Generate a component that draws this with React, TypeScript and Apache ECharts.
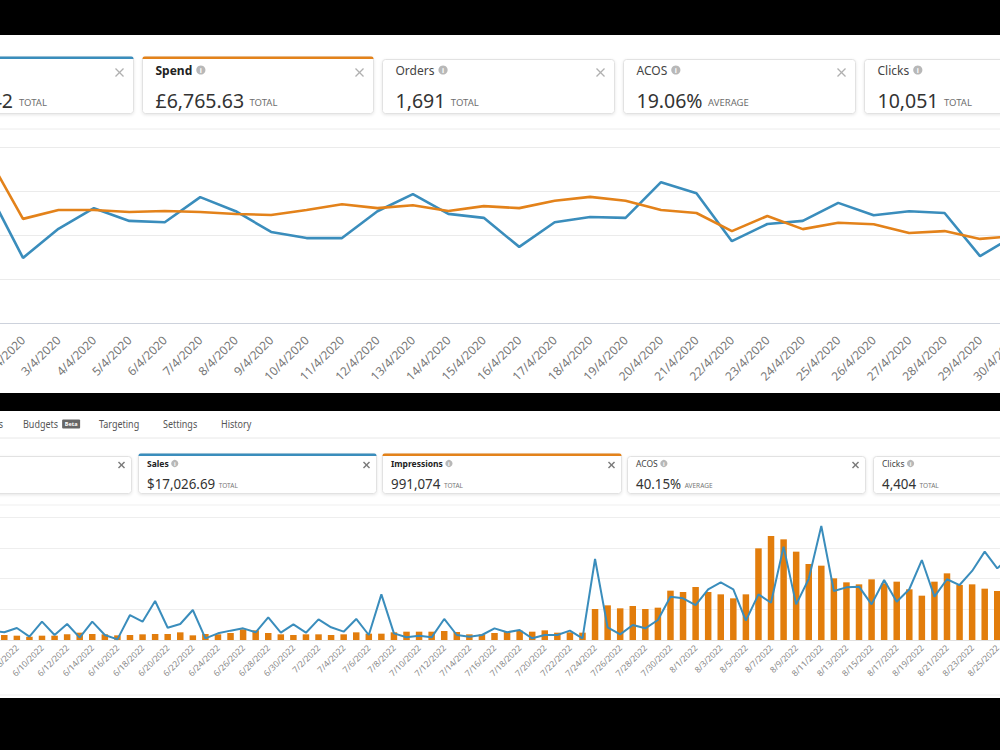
import React, { useEffect, useRef } from "react";
import * as echarts from "echarts";

const FONT = '"Noto Sans", "Open Sans", Arial, sans-serif';
const BLUE = "#3a8dbc";
const ORANGE = "#e3821a";
const BAR_ORANGE = "#e27d0c";

// ---- April 2020 (GBP), one point per day ----
const aprilDates = [
  "1/4/2020", "2/4/2020", "3/4/2020", "4/4/2020", "5/4/2020", "6/4/2020",
  "7/4/2020", "8/4/2020", "9/4/2020", "10/4/2020", "11/4/2020", "12/4/2020",
  "13/4/2020", "14/4/2020", "15/4/2020", "16/4/2020", "17/4/2020", "18/4/2020",
  "19/4/2020", "20/4/2020", "21/4/2020", "22/4/2020", "23/4/2020", "24/4/2020",
  "25/4/2020", "26/4/2020", "27/4/2020", "28/4/2020", "29/4/2020", "30/4/2020",
];
const aprilSales = [
  1520, 740, 1070, 1305, 1160, 1145, 1430, 1270, 1035, 965,
  965, 1270, 1465, 1240, 1195, 865, 1145, 1205, 1195, 1600,
  1475, 930, 1125, 1160, 1365, 1225, 1270, 1250, 760, 1000,
];
const aprilSpend = [
  342, 213, 231, 231, 227, 229, 227, 223, 221, 231,
  243, 235, 241, 229, 239, 235, 250, 258, 250, 231,
  225, 188, 219, 192, 205, 202, 184, 188, 172, 178,
];

// ---- 6 June – 26 August 2022 (USD), one bar per day ----
const summerDates = [
  "6/6/2022", "6/7/2022", "6/8/2022", "6/9/2022", "6/10/2022", "6/11/2022", "6/12/2022",
  "6/13/2022", "6/14/2022", "6/15/2022", "6/16/2022", "6/17/2022", "6/18/2022", "6/19/2022",
  "6/20/2022", "6/21/2022", "6/22/2022", "6/23/2022", "6/24/2022", "6/25/2022", "6/26/2022",
  "6/27/2022", "6/28/2022", "6/29/2022", "6/30/2022",
  "7/1/2022", "7/2/2022", "7/3/2022", "7/4/2022", "7/5/2022", "7/6/2022", "7/7/2022",
  "7/8/2022", "7/9/2022", "7/10/2022", "7/11/2022", "7/12/2022", "7/13/2022", "7/14/2022",
  "7/15/2022", "7/16/2022", "7/17/2022", "7/18/2022", "7/19/2022", "7/20/2022", "7/21/2022",
  "7/22/2022", "7/23/2022", "7/24/2022", "7/25/2022", "7/26/2022", "7/27/2022", "7/28/2022",
  "7/29/2022", "7/30/2022", "7/31/2022",
  "8/1/2022", "8/2/2022", "8/3/2022", "8/4/2022", "8/5/2022", "8/6/2022", "8/7/2022",
  "8/8/2022", "8/9/2022", "8/10/2022", "8/11/2022", "8/12/2022", "8/13/2022", "8/14/2022",
  "8/15/2022", "8/16/2022", "8/17/2022", "8/18/2022", "8/19/2022", "8/20/2022", "8/21/2022",
  "8/22/2022", "8/23/2022", "8/24/2022", "8/25/2022", "8/26/2022",
];
const summerImpressions = [
  // June 6–30
  2300, 2280, 1970, 1520, 1970, 1970, 2580, 3340, 2730, 2580, 2120, 2280, 2580,
  2730, 2730, 3490, 2120, 2730, 2580, 3190, 4860, 4400, 3190, 2580, 2280,
  // July
  2580, 2580, 2280, 2580, 3490, 2880, 2880, 3490, 3790, 3790, 3790, 4100, 3640,
  2580, 2580, 3190, 3640, 4250, 3790, 4400, 3340, 3490, 3340, 14110, 15780, 14420,
  15480, 14110, 14720, 22460, 21850,
  // August 1–26
  24130, 21850, 20790, 18970, 20790, 41730, 47350, 45830, 40220, 34600, 33840,
  28080, 26250, 25340, 27620, 25800, 26560, 23070, 20180, 26560, 30350, 25040,
  25340, 23370, 22310, 21500,
];
const summerSales = [
  // June 6–30
  73, 60, 94, 26, 143, 39, 125, 18, 143, 39, 5, 195, 143,
  304, 96, 125, 234, 13, 52, 73, 91, 60, 177, 57, 122,
  // July
  57, 161, 99, 65, 164, 39, 356, 52, 21, 34, 21, 164, 39,
  26, 39, 91, 60, 78, 13, 39, 39, 73, 13, 632, 99, 44,
  117, 91, 156, 338, 325,
  // August 1–26
  273, 396, 450, 396, 151, 356, 291, 729, 278, 476, 890,
  382, 411, 416, 278, 468, 299, 396, 624, 338, 474, 429,
  539, 690, 559, 650,
];

// ---- Metric cards ----
const aprilCardTitles = ["", "Spend", "Orders", "ACOS", "Clicks"];
const aprilCardValues = ["£35,496.42", "£6,765.63", "1,691", "19.06%", "10,051"];
const aprilCardUnits = ["TOTAL", "TOTAL", "TOTAL", "AVERAGE", "TOTAL"];

const summerCardTitles = ["", "Sales", "Impressions", "ACOS", "Clicks"];
const summerCardValues = ["", "$17,026.69", "991,074", "40.15%", "4,404"];
const summerCardUnits = ["", "TOTAL", "TOTAL", "AVERAGE", "TOTAL"];

const summerTabs = ["Negative keywords", "Budgets", "Targeting", "Settings", "History"];

// ---------- graphic helpers ----------
type El = Record<string, any>;

let measureCtx: CanvasRenderingContext2D | null = null;
function textWidth(text: string, size: number, weight: string = "normal"): number {
  if (!measureCtx) measureCtx = document.createElement("canvas").getContext("2d");
  if (!measureCtx) return text.length * size * 0.55;
  measureCtx.font = `${weight} ${size}px ${FONT}`;
  return measureCtx.measureText(text).width;
}

function txt(
  text: string, x: number, y: number, size: number, fill: string,
  weight: string = "normal", align: string = "left", sx: number = 1
): El {
  return {
    type: "text",
    x,
    y,
    scaleX: sx,
    z: 20,
    style: {
      text,
      fill,
      fontSize: size,
      fontWeight: weight,
      fontFamily: FONT,
      align,
      textAlign: align,
      verticalAlign: "middle",
      textVerticalAlign: "middle",
    },
  };
}

function cross(cx: number, cy: number, r: number, color: string, lw: number): El[] {
  return [
    { type: "line", z: 20, shape: { x1: cx - r, y1: cy - r, x2: cx + r, y2: cy + r }, style: { stroke: color, lineWidth: lw } },
    { type: "line", z: 20, shape: { x1: cx - r, y1: cy + r, x2: cx + r, y2: cy - r }, style: { stroke: color, lineWidth: lw } },
  ];
}

function info(cx: number, cy: number, r: number, size: number): El[] {
  return [
    { type: "circle", z: 20, shape: { cx, cy, r }, style: { fill: "#b8b8b8" } },
    txt("i", cx, cy + 0.3, size, "#ffffff", "bold", "center"),
  ];
}

function hline(y: number, color: string): El {
  return { type: "line", z: 5, shape: { x1: 0, y1: y, x2: 1000, y2: y }, style: { stroke: color, lineWidth: 1 } };
}

function cardBox(x: number, top: number, w: number, bottom: number, accent?: string): El[] {
  const els: El[] = [
    {
      type: "rect",
      z: 10,
      shape: { x: x + 0.5, y: top + 0.5, width: w, height: bottom - top, r: 3 },
      style: {
        fill: "#ffffff",
        stroke: "#e2e2e2",
        lineWidth: 1,
        shadowBlur: 3,
        shadowOffsetY: 1,
        shadowColor: "rgba(0,0,0,0.10)",
      },
    },
  ];
  if (accent) {
    els.push({ type: "rect", z: 11, shape: { x: x + 0.5, y: top, width: w, height: 2.5, r: [2, 2, 0, 0] }, style: { fill: accent } });
  }
  return els;
}

function buildGraphics(): El[] {
  const els: El[] = [];

  // dark bands framing the two dashboards
  els.push({ type: "rect", z: 30, shape: { x: 0, y: 0, width: 1000, height: 35 }, style: { fill: "#000" } });
  els.push({ type: "rect", z: 30, shape: { x: 0, y: 393, width: 1000, height: 18 }, style: { fill: "#000" } });
  els.push({ type: "rect", z: 30, shape: { x: 0, y: 698, width: 1000, height: 52 }, style: { fill: "#000" } });

  // ----- April dashboard cards -----
  const topX = [-99, 142, 382, 623, 864];
  const topW = [232, 231, 232, 232, 232];
  const topAccent = [BLUE, ORANGE, undefined, undefined, undefined];
  const tTitle = 12;
  const tValue = 19.5;
  const tUnit = 9.5;
  for (let i = 0; i < topX.length; i++) {
    const x = topX[i];
    const sel = !!topAccent[i];
    const left = x + 13.5;
    els.push(...cardBox(x, sel ? 56.5 : 59, topW[i], 113, topAccent[i]));
    els.push(...cross(x + topW[i] - 13.5, 72.5, 4, "#b0b0b0", 1.2));
    if (i === 0) {
      els.push(txt(aprilCardValues[0], 13, 100, tValue, "#333", "normal", "right"));
      els.push(txt(aprilCardUnits[0], 19, 102.5, tUnit, "#6e6e6e"));
      continue;
    }
    const weight = sel ? "bold" : "normal";
    const tw = textWidth(aprilCardTitles[i], tTitle, weight);
    els.push(txt(aprilCardTitles[i], left, 70, tTitle, sel ? "#222" : "#444", weight));
    els.push(...info(left + tw + 4 + 4.6, 70, 4.6, 7));
    const vw = textWidth(aprilCardValues[i], tValue);
    els.push(txt(aprilCardValues[i], left, 100, tValue, "#333"));
    els.push(txt(aprilCardUnits[i], left + vw + 5.5, 102.5, tUnit, "#6e6e6e"));
  }
  els.push(hline(129, "#ececec"));

  // ----- summer dashboard tabs -----
  const tabX = [3, 23, 99, 163, 221];
  const tabSize = 10;
  const tabScale = 0.9;
  for (let i = 0; i < summerTabs.length; i++) {
    els.push(txt(summerTabs[i], tabX[i], 424, tabSize, "#555", "normal", i === 0 ? "right" : "left", tabScale));
  }
  const badgeX = tabX[1] + textWidth(summerTabs[1], tabSize) * tabScale + 4;
  els.push({ type: "rect", z: 20, shape: { x: badgeX, y: 419.5, width: 18, height: 9, r: 1 }, style: { fill: "#666" } });
  els.push(txt("Beta", badgeX + 9, 424, 5.5, "#fff", "bold", "center"));
  els.push(hline(438, "#e8e8e8"));

  // ----- summer dashboard cards -----
  const botX = [-107, 138, 382, 627, 873];
  const botW = [238, 238, 239, 238, 238];
  const botAccent = [undefined, BLUE, ORANGE, undefined, undefined];
  const bTitle = 8.5;
  const bValue = 15;
  const bValueScale = 0.89;
  const bUnit = 6.5;
  for (let i = 0; i < botX.length; i++) {
    const x = botX[i];
    const sel = !!botAccent[i];
    const left = x + 9;
    els.push(...cardBox(x, sel ? 453.5 : 456, botW[i], 493, botAccent[i]));
    els.push(...cross(x + botW[i] - 9.5, 465, 3, "#7a7a7a", 1.4));
    if (i === 0) continue;
    const weight = sel ? "bold" : "normal";
    const tw = textWidth(summerCardTitles[i], bTitle, weight);
    els.push(txt(summerCardTitles[i], left, 463.5, bTitle, sel ? "#222" : "#444", weight));
    els.push(...info(left + tw + 2.5 + 3.6, 463.5, 3.6, 5.5));
    const vw = textWidth(summerCardValues[i], bValue) * bValueScale;
    els.push(txt(summerCardValues[i], left, 483, bValue, "#333", "normal", "left", bValueScale));
    els.push(txt(summerCardUnits[i], left + vw + 3.5, 485, bUnit, "#777"));
  }
  els.push(hline(505, "#efefef"));
  els.push(hline(695, "#efefef"));

  return els;
}

export default function App() {
  const ref = useRef<HTMLDivElement>(null);

  useEffect(() => {
    document.body.style.margin = "0";
    if (!ref.current) return;
    const chart = echarts.init(ref.current, null, { renderer: "svg" });

    const option: any = {
      animation: false,
      backgroundColor: "#ffffff",
      textStyle: { fontFamily: FONT },
      grid: [
        { left: -12.44, top: 147, width: 1027.9, height: 176, containLabel: false, outerBoundsMode: "none" },
        { left: -14.57, top: 517, width: 1030.7, height: 123, containLabel: false, outerBoundsMode: "none" },
      ],
      xAxis: [
        {
          type: "category",
          gridIndex: 0,
          data: aprilDates,
          boundaryGap: false,
          axisLine: { lineStyle: { color: "#cdd2dc", width: 1 } },
          axisTick: { show: false },
          axisLabel: { interval: 0, rotate: 45, fontSize: 12, color: "#777", margin: 15, fontFamily: FONT },
        },
        {
          type: "category",
          gridIndex: 1,
          data: summerDates,
          boundaryGap: true,
          axisLine: { lineStyle: { color: "#e0e0e0", width: 1 } },
          axisTick: { show: false },
          axisLabel: { interval: 1, rotate: 45, fontSize: 8.5, color: "#888", margin: 6, fontFamily: FONT },
        },
      ],
      yAxis: [
        {
          type: "value", gridIndex: 0, min: 0, max: 2000, interval: 500,
          axisLabel: { show: false }, axisLine: { show: false }, axisTick: { show: false },
          splitLine: { lineStyle: { color: "#ebebeb", width: 1 } },
        },
        {
          type: "value", gridIndex: 0, min: 0, max: 360, interval: 90,
          axisLabel: { show: false }, axisLine: { show: false }, axisTick: { show: false },
          splitLine: { show: false },
        },
        {
          type: "value", gridIndex: 1, min: 0, max: 56000, interval: 14000,
          axisLabel: { show: false }, axisLine: { show: false }, axisTick: { show: false },
          splitLine: { lineStyle: { color: "#eeeeee", width: 1 } },
        },
        {
          type: "value", gridIndex: 1, min: 0, max: 960, interval: 240,
          axisLabel: { show: false }, axisLine: { show: false }, axisTick: { show: false },
          splitLine: { show: false },
        },
      ],
      series: [
        {
          name: "Sales",
          type: "line",
          xAxisIndex: 0,
          yAxisIndex: 0,
          data: aprilSales,
          showSymbol: false,
          lineStyle: { color: BLUE, width: 2.6 },
          itemStyle: { color: BLUE },
          z: 3,
        },
        {
          name: "Spend",
          type: "line",
          xAxisIndex: 0,
          yAxisIndex: 1,
          data: aprilSpend,
          showSymbol: false,
          lineStyle: { color: ORANGE, width: 2.6 },
          itemStyle: { color: ORANGE },
          z: 4,
        },
        {
          name: "Impressions",
          type: "bar",
          xAxisIndex: 1,
          yAxisIndex: 2,
          data: summerImpressions,
          barWidth: 6.5,
          itemStyle: { color: BAR_ORANGE },
          z: 3,
        },
        {
          name: "Sales",
          type: "line",
          xAxisIndex: 1,
          yAxisIndex: 3,
          data: summerSales,
          showSymbol: false,
          lineStyle: { color: BLUE, width: 2 },
          itemStyle: { color: BLUE },
          z: 5,
        },
      ],
      graphic: { elements: buildGraphics() },
    };

    chart.setOption(option);
    return () => {
      chart.dispose();
    };
  }, []);

  return (
    <div
      ref={ref}
      style={{ position: "fixed", left: 0, top: 0, width: 1000, height: 750 }}
    />
  );
}
